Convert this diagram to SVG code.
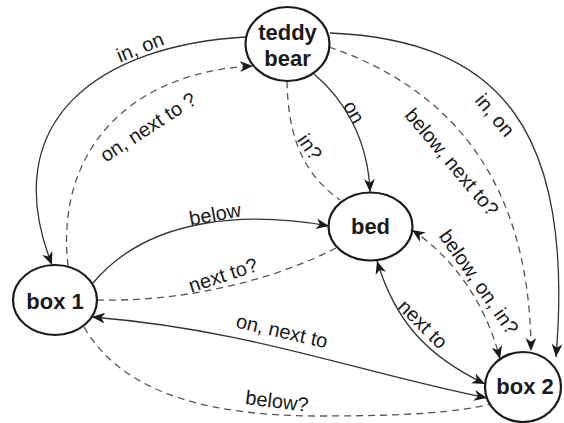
<svg xmlns="http://www.w3.org/2000/svg" width="564" height="423" viewBox="0 0 564 423">
<style>
.node ellipse{fill:#fff;stroke:#1a1a1a;stroke-width:2.2}
.node text{font-family:"Liberation Sans",Arial,sans-serif;font-weight:bold;font-size:22px;fill:#1a1a1a;text-anchor:middle}
.e{fill:none;stroke:#333;stroke-width:1.3}
.d{stroke-dasharray:7,5;stroke:#555}
.a{marker-end:url(#ah)}
.b{marker-start:url(#ah);marker-end:url(#ah)}
.lbl{font-family:"Liberation Sans",Arial,sans-serif;font-size:20px;fill:#1a1a1a;text-anchor:middle}
</style>
<defs>
<marker id="ah" viewBox="0 0 12 10" refX="12" refY="5" markerWidth="13" markerHeight="11" markerUnits="userSpaceOnUse" orient="auto-start-reverse">
<path d="M0,0 L12,5 L0,10 L3.5,5 z" fill="#1a1a1a"/>
</marker>
</defs>
<rect width="564" height="423" fill="#fff"/>
<g id="connectors">
<path class="e a" d="M246,37 C100,45 -5,120 52,265"/>
<path class="e d a" d="M68,266 C55,150 130,72 253,66"/>
<path class="e a" d="M314,74 C345,100 368,140 370,192"/>
<path class="e d" d="M287,81 C288,140 305,175 340,200"/>
<path class="e d a" d="M329,47 C440,85 530,170 531,351"/>
<path class="e a" d="M330,33 C500,40 575,130 556,357"/>
<path class="e a" d="M93,283 C150,215 250,212 329,226"/>
<path class="e d" d="M97,300 C180,302 270,282 336,248"/>
<path class="e b" d="M92,317 C250,330 350,370 487,398"/>
<path class="e b" d="M377,261 C395,320 425,355 485,384"/>
<path class="e d b" d="M412,230 C450,255 485,300 500,359"/>
<path class="e d" d="M84,327 C125,398 220,416 320,416 C410,416 460,412 490,404"/>
</g>
<g id="labels">
<text class="lbl" transform="translate(140,47) rotate(-22)" y="7">in, on</text>
<text class="lbl" transform="translate(148,127) rotate(-33)" y="7">on, next to ?</text>
<text class="lbl" transform="translate(354,112) rotate(60)" y="7">on</text>
<text class="lbl" transform="translate(310,147) rotate(55)" y="7">in?</text>
<text class="lbl" transform="translate(452,162) rotate(50)" y="7">below, next to?</text>
<text class="lbl" transform="translate(495,115) rotate(50)" y="7">in, on</text>
<text class="lbl" transform="translate(215,214) rotate(-10)" y="7">below</text>
<text class="lbl" transform="translate(223,275) rotate(-18)" y="7">next to?</text>
<text class="lbl" transform="translate(282,331) rotate(13)" y="7">on, next to</text>
<text class="lbl" transform="translate(423,324) rotate(45)" y="7">next to</text>
<text class="lbl" transform="translate(479,282) rotate(55)" y="7">below, on, in?</text>
<text class="lbl" transform="translate(277,401) rotate(7)" y="7">below?</text>
</g>
<g id="teddy" class="node"><ellipse cx="287.5" cy="44" rx="42" ry="37"/><text x="287.5" y="40">teddy</text><text x="287.5" y="66">bear</text></g>
<g id="bed" class="node"><ellipse cx="370.5" cy="226.5" rx="42" ry="34"/><text x="370.5" y="234">bed</text></g>
<g id="box1" class="node"><ellipse cx="55" cy="300" rx="42" ry="35"/><text x="55" y="309">box 1</text></g>
<g id="box2" class="node"><ellipse cx="523" cy="387" rx="38" ry="35"/><text x="525" y="394">box 2</text></g>
</svg>
